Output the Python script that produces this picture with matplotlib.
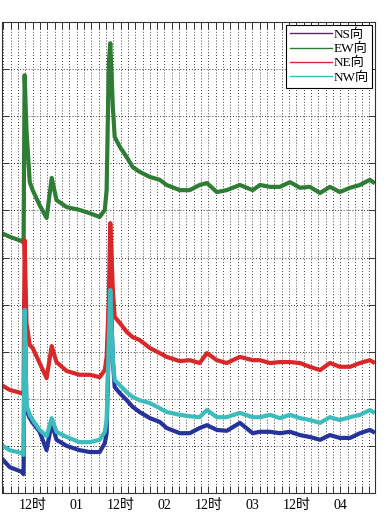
import matplotlib
matplotlib.use("Agg")
import matplotlib.pyplot as plt
from matplotlib.lines import Line2D
import numpy as np

plt.rcParams["font.family"] = ["Liberation Serif", "Noto Sans CJK SC"]

# time in hours from midnight of the first (unlabelled) day
hours = [3.5, 5.7, 9.0, 9.5, 9.8, 10.3, 11.2, 12.0, 13.9, 15.8, 17.2, 18.5,
         21.3, 24.8, 27.6, 30.3, 31.7, 32.2, 32.8, 33.2, 33.9, 34.4, 35.8,
         37.7, 39.3, 41.2, 44.0, 46.7, 48.6, 52.2, 54.9, 57.6, 59.6, 62.3,
         65.0, 68.6, 72.1, 74.1, 76.8, 79.5, 82.3, 85.0, 87.7, 90.5, 93.2,
         95.9, 98.7, 101.4, 104.1, 105.0]

ns = [0.74, 0.55, 0.45, 0.40, 4.10, 1.76, 1.59, 1.49, 1.30, 0.91, 1.49, 1.13,
      1.00, 0.91, 0.87, 0.87, 1.06, 1.27, 3.25, 4.48, 2.82, 2.25, 2.12,
      1.97, 1.83, 1.72, 1.59, 1.51, 1.38, 1.27, 1.27, 1.38, 1.44, 1.34,
      1.32, 1.49, 1.27, 1.30, 1.30, 1.27, 1.30, 1.23, 1.19, 1.13, 1.23,
      1.17, 1.17, 1.27, 1.34, 1.30]

ew = [5.52, 5.44, 5.35, 5.31, 8.87, 7.71, 6.60, 6.43, 6.11, 5.84, 6.69, 6.22,
      6.07, 6.01, 5.94, 5.86, 6.01, 6.43, 9.13, 9.55, 8.20, 7.56, 7.35,
      7.13, 6.92, 6.82, 6.71, 6.65, 6.54, 6.43, 6.43, 6.54, 6.58, 6.39,
      6.43, 6.54, 6.43, 6.54, 6.50, 6.50, 6.60, 6.48, 6.50, 6.37, 6.50,
      6.39, 6.48, 6.54, 6.65, 6.60]

ne = [2.29, 2.19, 2.12, 2.10, 5.37, 3.61, 3.14, 3.08, 2.76, 2.44, 3.12, 2.78,
      2.59, 2.51, 2.51, 2.46, 2.61, 2.89, 4.10, 5.73, 4.31, 3.74, 3.61,
      3.42, 3.31, 3.25, 3.08, 2.97, 2.89, 2.80, 2.82, 2.76, 2.97, 2.82,
      2.76, 2.89, 2.82, 2.82, 2.76, 2.78, 2.78, 2.76, 2.68, 2.61, 2.76,
      2.68, 2.68, 2.76, 2.82, 2.78]

nw = [1.02, 0.91, 0.85, 0.81, 3.89, 1.87, 1.66, 1.55, 1.34, 1.21, 1.59, 1.30,
      1.19, 1.08, 1.08, 1.13, 1.30, 1.55, 3.25, 4.31, 2.82, 2.40, 2.29,
      2.14, 2.04, 1.97, 1.91, 1.80, 1.72, 1.66, 1.63, 1.61, 1.76, 1.61,
      1.61, 1.70, 1.61, 1.61, 1.66, 1.59, 1.66, 1.59, 1.55, 1.49, 1.61,
      1.55, 1.61, 1.66, 1.76, 1.72]

series_names = ["NS向", "EW向", "NE向", "NW向"]
series_colors = ["#26339a", "#2f7d34", "#d8282a", "#3cbcbc"]
legend_colors = ["#5a2a6a", "#2f7d34", "#d8282a", "#3cbcbc"]

tick_hours = [12, 24, 36, 48, 60, 72, 84, 96]
tick_labels = ["12时", "01", "12时", "02", "12时", "03", "12时", "04"]

fig = plt.figure(figsize=(3.91, 5.26), dpi=100)
ax = fig.add_axes([0.004, 0.0627, 0.955, 0.8955])

for vals, col in zip([ns, ew, ne, nw], series_colors):
    ax.plot(hours, vals, color=col, lw=3.0, solid_joinstyle="round")

ax.set_xlim(3.5, 105.5)
ax.set_ylim(0, 10)
ax.set_yticks(np.arange(0, 11, 1))
ax.set_yticklabels([])
ax.set_xticks(tick_hours)
ax.set_xticklabels(tick_labels, fontsize=10)
ax.set_xticks(np.arange(4, 106, 2), minor=True)
ax.tick_params(axis="both", which="both", direction="in", top=True, right=True,
               length=5, width=0.7, color="#333333")
ax.tick_params(axis="x", which="major", pad=4)
grid_style = dict(color="black", ls=(0, (1, 2.5)), lw=0.6)
ax.grid(True, which="minor", axis="x", **grid_style)
ax.grid(True, which="major", axis="x", **grid_style)
ax.grid(True, which="major", axis="y", **grid_style)
for sp in ax.spines.values():
    sp.set_color("#333333")
    sp.set_linewidth(0.8)

handles = [Line2D([0], [0], color=c, lw=1.0) for c in legend_colors]
leg = ax.legend(handles, series_names, loc="upper right",
                frameon=True, fancybox=False, edgecolor="black",
                handlelength=3.2, handletextpad=0.1, labelspacing=0.15,
                borderpad=0.3, borderaxespad=0.2,
                prop={"family": ["Liberation Serif", "Noto Sans CJK SC"], "size": 9.5})
leg.get_frame().set_linewidth(0.8)
leg.get_frame().set_alpha(1)

fig.savefig("out.png", dpi=100)
